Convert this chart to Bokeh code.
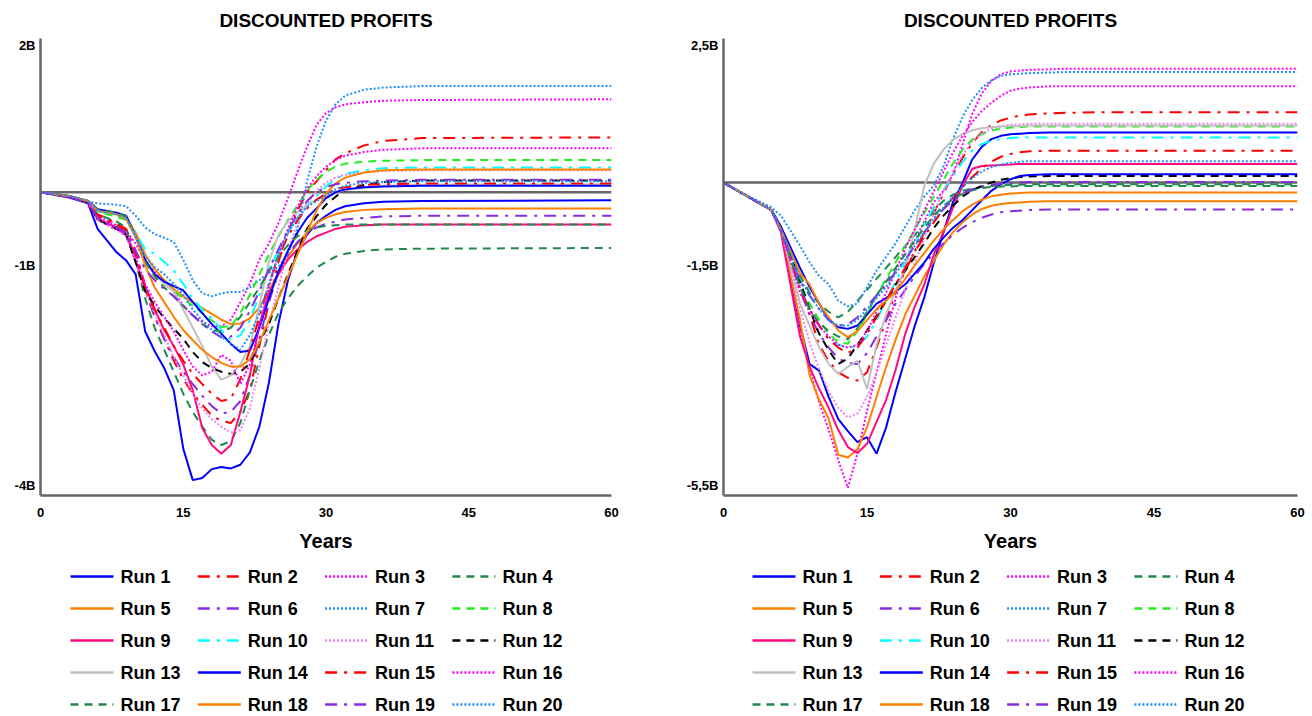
from bokeh.plotting import figure
from bokeh.models import Range1d, FixedTicker, Span
from bokeh.layouts import row, column
from bokeh.core.properties import value
from bokeh.embed import file_html
from bokeh.resources import INLINE

YEARS = [0, 3, 5, 6, 8, 9, 10, 11, 12, 13, 14, 15, 16, 17, 18, 19, 20, 21, 22, 23, 24, 25,
         26, 27, 28, 29, 30, 31, 32, 34, 36, 40, 60]

RUN_NAMES = ["Run %d" % i for i in range(1, 21)]
RUN_COLORS = ["#0000FF", "#FF0000", "#FF00FF", "#1E8B4C", "#FF8000", "#8A2BE2", "#1E90FF",
              "#22EE22", "#FF0A7F", "#00FFFF", "#EE82EE", "#000000", "#C0C0C0", "#0000FF",
              "#FF0000", "#FF00FF", "#1E8B4C", "#FF8000", "#8A2BE2", "#1E90FF"]
RUN_STYLES = ["solid", "dashdot", "dotted", "dashed", "solid", "dashdot", "dotted", "dashed",
              "solid", "dashdot", "dotted", "dashed", "solid", "solid", "dashdot", "dotted",
              "dashed", "solid", "dashdot", "dotted"]

# Left chart (billions)
left_run_01 = [0, -0.07, -0.15, -0.5, -0.82, -0.93, -1.12, -1.9, -2.17, -2.4, -2.7, -3.5, -3.93, -3.9, -3.78, -3.75, -3.77, -3.72, -3.55, -3.2, -2.6, -1.8, -1.2, -0.8, -0.58, -0.42, -0.32, -0.24, -0.19, -0.15, -0.13, -0.12, -0.11]
left_run_02 = [0, -0.06, -0.13, -0.3, -0.42, -0.5, -0.8, -1.3, -1.7, -2.0, -2.3, -2.55, -2.75, -2.9, -3.05, -3.12, -3.15, -3.0, -2.7, -2.1, -1.5, -0.95, -0.55, -0.25, 0.0, 0.15, 0.3, 0.45, 0.53, 0.64, 0.7, 0.74, 0.75]
left_run_03 = [0, -0.06, -0.13, -0.32, -0.45, -0.52, -0.7, -0.95, -1.08, -1.2, -1.35, -1.55, -1.68, -1.77, -1.83, -1.83, -1.74, -1.5, -1.25, -0.92, -0.7, -0.42, -0.08, 0.28, 0.62, 0.92, 1.08, 1.16, 1.2, 1.23, 1.25, 1.26, 1.27]
left_run_04 = [0, -0.06, -0.13, -0.3, -0.4, -0.48, -0.95, -1.45, -1.85, -2.15, -2.45, -2.75, -3.0, -3.2, -3.38, -3.45, -3.4, -3.15, -2.7, -2.3, -1.95, -1.65, -1.45, -1.28, -1.15, -1.03, -0.95, -0.88, -0.84, -0.8, -0.78, -0.77, -0.76]
left_run_05 = [0, -0.05, -0.12, -0.24, -0.3, -0.35, -0.55, -0.85, -1.05, -1.2, -1.32, -1.42, -1.5, -1.58, -1.66, -1.74, -1.8, -1.79, -1.72, -1.57, -1.35, -1.1, -0.88, -0.7, -0.55, -0.42, -0.35, -0.3, -0.27, -0.24, -0.23, -0.22, -0.22]
left_run_06 = [0, -0.06, -0.14, -0.38, -0.5, -0.58, -0.95, -1.35, -1.7, -2.0, -2.25, -2.45, -2.62, -2.78, -2.92, -3.02, -3.0, -2.85, -2.5, -2.0, -1.5, -1.1, -0.85, -0.68, -0.56, -0.48, -0.43, -0.4, -0.37, -0.35, -0.33, -0.32, -0.32]
left_run_07 = [0, -0.05, -0.13, -0.15, -0.17, -0.19, -0.32, -0.48, -0.57, -0.62, -0.68, -0.92, -1.2, -1.38, -1.42, -1.38, -1.36, -1.36, -1.3, -1.2, -1.1, -1.02, -0.85, -0.5, 0.15, 0.62, 0.98, 1.2, 1.32, 1.4, 1.43, 1.45, 1.45]
left_run_08 = [0, -0.05, -0.12, -0.27, -0.33, -0.38, -0.6, -0.95, -1.12, -1.25, -1.35, -1.45, -1.55, -1.65, -1.75, -1.84, -1.83, -1.65, -1.4, -1.12, -0.85, -0.6, -0.38, -0.18, 0.02, 0.17, 0.28, 0.35, 0.39, 0.42, 0.43, 0.44, 0.44]
left_run_09 = [0, -0.06, -0.14, -0.36, -0.48, -0.56, -0.95, -1.28, -1.6, -1.88, -2.1, -2.35, -2.7, -3.22, -3.45, -3.57, -3.45, -3.0, -2.5, -1.8, -1.38, -1.12, -0.92, -0.78, -0.68, -0.6, -0.55, -0.5, -0.47, -0.45, -0.44, -0.44, -0.44]
left_run_10 = [0, -0.05, -0.12, -0.26, -0.31, -0.36, -0.55, -0.78, -0.84, -0.95, -1.07, -1.25, -1.45, -1.6, -1.72, -1.88, -2.02, -1.95, -1.75, -1.4, -1.05, -0.8, -0.55, -0.35, -0.18, -0.05, 0.08, 0.18, 0.25, 0.3, 0.33, 0.34, 0.34]
left_run_11 = [0, -0.06, -0.14, -0.38, -0.52, -0.6, -0.95, -1.35, -1.65, -1.95, -2.25, -2.5, -2.75, -2.95, -3.1, -3.2, -3.28, -3.25, -2.95, -2.4, -1.8, -1.3, -0.8, -0.42, -0.15, 0.02, 0.13, 0.2, 0.24, 0.27, 0.29, 0.3, 0.3]
left_run_12 = [0, -0.06, -0.14, -0.37, -0.5, -0.58, -0.95, -1.35, -1.55, -1.72, -1.86, -2.0, -2.18, -2.32, -2.4, -2.45, -2.48, -2.45, -2.34, -2.05, -1.8, -1.45, -1.12, -0.8, -0.5, -0.33, -0.17, -0.06, 0.03, 0.1, 0.14, 0.16, 0.16]
left_run_13 = [0, -0.05, -0.12, -0.25, -0.3, -0.36, -0.58, -0.95, -1.12, -1.25, -1.35, -1.6, -1.85, -2.1, -2.38, -2.56, -2.5, -2.35, -2.1, -1.55, -0.95, -0.58, -0.4, -0.27, -0.18, -0.1, -0.05, 0.0, 0.03, 0.06, 0.09, 0.1, 0.11]
left_run_14 = [0, -0.05, -0.12, -0.23, -0.28, -0.32, -0.6, -0.92, -1.12, -1.22, -1.28, -1.34, -1.5, -1.65, -1.8, -1.93, -2.07, -2.18, -2.16, -1.85, -1.45, -1.08, -0.8, -0.55, -0.35, -0.22, -0.08, 0.0, 0.04, 0.07, 0.08, 0.09, 0.09]
left_run_15 = [0, -0.06, -0.13, -0.32, -0.45, -0.52, -0.85, -1.3, -1.6, -1.85, -2.1, -2.3, -2.48, -2.62, -2.75, -2.85, -2.82, -2.55, -2.15, -1.7, -1.25, -0.88, -0.6, -0.38, -0.22, -0.1, -0.02, 0.04, 0.07, 0.1, 0.11, 0.12, 0.12]
left_run_16 = [0, -0.06, -0.14, -0.35, -0.5, -0.57, -0.88, -1.25, -1.5, -1.7, -1.9, -2.15, -2.38, -2.5, -2.45, -2.22, -2.3, -2.62, -2.35, -1.85, -1.3, -0.85, -0.5, -0.2, 0.05, 0.22, 0.35, 0.44, 0.5, 0.55, 0.58, 0.6, 0.6]
left_run_17 = [0, -0.05, -0.12, -0.24, -0.28, -0.33, -0.6, -0.95, -1.15, -1.3, -1.42, -1.55, -1.68, -1.8, -1.88, -1.9, -1.85, -1.7, -1.5, -1.3, -1.08, -0.88, -0.72, -0.6, -0.52, -0.48, -0.46, -0.45, -0.44, -0.44, -0.44, -0.44, -0.44]
left_run_18 = [0, -0.05, -0.12, -0.25, -0.3, -0.36, -0.6, -1.0, -1.3, -1.5, -1.7, -1.88, -2.02, -2.15, -2.25, -2.33, -2.38, -2.38, -2.28, -2.05, -1.75, -1.45, -1.15, -0.85, -0.55, -0.25, -0.02, 0.12, 0.2, 0.27, 0.3, 0.31, 0.31]
left_run_19 = [0, -0.06, -0.14, -0.35, -0.48, -0.55, -0.8, -1.05, -1.2, -1.32, -1.42, -1.55, -1.68, -1.8, -1.9, -1.98, -1.97, -1.85, -1.62, -1.35, -1.05, -0.78, -0.52, -0.3, -0.12, 0.0, 0.07, 0.11, 0.13, 0.15, 0.16, 0.17, 0.17]
left_run_20 = [0, -0.05, -0.12, -0.25, -0.3, -0.35, -0.62, -0.88, -1.02, -1.12, -1.25, -1.4, -1.6, -1.75, -1.88, -1.97, -2.07, -2.15, -1.95, -1.65, -1.25, -0.85, -0.55, -0.35, -0.2, -0.12, -0.04, 0.04, 0.09, 0.13, 0.14, 0.15, 0.15]

# Right chart (billions)
right_run_01 = [0, -0.3, -0.5, -0.85, -2.6, -3.3, -3.42, -3.9, -4.3, -4.52, -4.72, -4.63, -4.93, -4.45, -3.8, -3.2, -2.6, -2.08, -1.45, -0.9, -0.35, 0.0, 0.42, 0.65, 0.79, 0.85, 0.88, 0.89, 0.9, 0.91, 0.91, 0.91, 0.91]
right_run_02 = [0, -0.3, -0.5, -0.85, -1.9, -2.4, -2.95, -3.25, -3.45, -3.55, -3.6, -3.45, -3.0, -2.5, -2.0, -1.6, -1.25, -0.9, -0.55, -0.2, 0.15, 0.45, 0.72, 0.92, 1.05, 1.13, 1.18, 1.22, 1.24, 1.26, 1.27, 1.28, 1.28]
right_run_03 = [0, -0.3, -0.5, -0.85, -2.65, -3.4, -4.0, -4.5, -5.05, -5.55, -4.93, -4.15, -3.45, -2.75, -2.1, -1.5, -1.05, -0.7, -0.35, -0.15, 0.15, 0.7, 1.25, 1.62, 1.85, 1.97, 2.02, 2.04, 2.05, 2.06, 2.07, 2.07, 2.07]
right_run_04 = [0, -0.3, -0.5, -0.8, -1.7, -2.0, -2.2, -2.35, -2.45, -2.35, -2.15, -1.95, -1.75, -1.55, -1.35, -1.15, -0.95, -0.75, -0.5, -0.33, -0.22, -0.15, -0.11, -0.08, -0.06, -0.05, -0.04, -0.04, -0.03, -0.03, -0.03, -0.03, -0.03]
right_run_05 = [0, -0.3, -0.5, -0.85, -2.5, -3.5, -3.95, -4.3, -4.95, -5.0, -4.85, -4.45, -3.9, -3.35, -2.85, -2.4, -2.05, -1.7, -1.42, -1.13, -0.9, -0.72, -0.58, -0.48, -0.42, -0.39, -0.37, -0.36, -0.35, -0.34, -0.34, -0.34, -0.34]
right_run_06 = [0, -0.3, -0.5, -0.85, -1.95, -2.4, -2.75, -3.0, -3.2, -3.28, -3.3, -3.1, -2.8, -2.5, -2.2, -1.95, -1.7, -1.48, -1.28, -1.1, -0.95, -0.82, -0.72, -0.64, -0.58, -0.54, -0.52, -0.51, -0.5, -0.49, -0.49, -0.49, -0.49]
right_run_07 = [0, -0.28, -0.45, -0.6, -1.15, -1.45, -1.7, -1.85, -2.15, -2.25, -2.2, -1.9, -1.6, -1.35, -1.1, -0.8, -0.5, -0.25, -0.05, 0.3, 0.8, 1.2, 1.5, 1.72, 1.86, 1.94, 1.97, 1.98, 1.99, 2.0, 2.01, 2.01, 2.01]
right_run_08 = [0, -0.3, -0.5, -0.85, -1.85, -2.2, -2.5, -2.75, -2.9, -2.93, -2.7, -2.4, -2.05, -1.75, -1.45, -1.15, -0.85, -0.55, -0.25, 0.05, 0.35, 0.6, 0.78, 0.88, 0.95, 0.98, 1.0, 1.01, 1.02, 1.02, 1.02, 1.02, 1.02]
right_run_09 = [0, -0.3, -0.5, -0.9, -2.8, -3.35, -3.75, -4.1, -4.5, -4.81, -4.92, -4.75, -4.35, -3.95, -3.4, -2.75, -2.25, -1.85, -1.3, -0.9, -0.45, -0.05, 0.25, 0.3, 0.31, 0.32, 0.33, 0.34, 0.34, 0.34, 0.34, 0.34, 0.34]
right_run_10 = [0, -0.3, -0.5, -0.85, -1.9, -2.3, -2.6, -2.85, -2.95, -3.0, -2.98, -2.8, -2.5, -2.15, -1.8, -1.45, -1.1, -0.75, -0.45, -0.15, 0.12, 0.38, 0.58, 0.7, 0.76, 0.79, 0.81, 0.82, 0.82, 0.82, 0.82, 0.82, 0.82]
right_run_11 = [0, -0.3, -0.5, -0.85, -2.3, -2.9, -3.4, -3.8, -4.1, -4.27, -4.2, -3.9, -3.45, -2.95, -2.45, -1.95, -1.45, -1.0, -0.55, -0.15, 0.2, 0.5, 0.75, 0.9, 0.98, 1.02, 1.05, 1.06, 1.07, 1.07, 1.07, 1.07, 1.07]
right_run_12 = [0, -0.3, -0.5, -0.85, -1.8, -2.3, -2.75, -3.05, -3.3, -3.2, -2.95, -2.69, -2.42, -2.15, -1.85, -1.6, -1.35, -1.1, -0.82, -0.6, -0.42, -0.25, -0.14, -0.06, 0.0, 0.05, 0.08, 0.1, 0.11, 0.12, 0.12, 0.12, 0.12]
right_run_13 = [0, -0.3, -0.5, -0.8, -2.2, -2.6, -3.0, -3.3, -3.48, -3.35, -3.24, -3.75, -2.95, -2.4, -1.95, -1.55, -0.85, -0.05, 0.35, 0.6, 0.78, 0.88, 0.95, 0.99, 1.01, 1.02, 1.03, 1.03, 1.04, 1.04, 1.04, 1.04, 1.04]
right_run_14 = [0, -0.3, -0.5, -0.8, -1.55, -1.9, -2.2, -2.5, -2.63, -2.66, -2.6, -2.4, -2.2, -2.1, -1.98, -1.85, -1.65, -1.45, -1.2, -1.0, -0.82, -0.68, -0.5, -0.32, -0.15, -0.03, 0.06, 0.12, 0.14, 0.15, 0.15, 0.15, 0.15]
right_run_15 = [0, -0.3, -0.5, -0.85, -1.95, -2.3, -2.6, -2.85, -3.0, -3.1, -3.0, -2.75, -2.45, -2.15, -1.85, -1.55, -1.25, -0.98, -0.72, -0.48, -0.27, -0.08, 0.1, 0.26, 0.38, 0.47, 0.52, 0.55, 0.57, 0.58, 0.58, 0.58, 0.58]
right_run_16 = [0, -0.3, -0.5, -0.85, -2.0, -2.35, -2.6, -2.8, -2.95, -3.0, -2.95, -2.7, -2.35, -2.0, -1.6, -1.2, -0.85, -0.5, -0.15, 0.2, 0.55, 0.85, 1.1, 1.3, 1.45, 1.58, 1.67, 1.71, 1.73, 1.75, 1.75, 1.75, 1.75]
right_run_17 = [0, -0.3, -0.5, -0.85, -1.9, -2.3, -2.55, -2.7, -2.8, -2.85, -2.65, -2.35, -2.05, -1.8, -1.55, -1.3, -1.05, -0.82, -0.6, -0.42, -0.3, -0.2, -0.14, -0.1, -0.08, -0.07, -0.07, -0.06, -0.06, -0.06, -0.06, -0.06, -0.06]
right_run_18 = [0, -0.3, -0.5, -0.85, -1.65, -1.85, -2.2, -2.45, -2.69, -2.81, -2.7, -2.5, -2.3, -2.15, -1.98, -1.75, -1.5, -1.28, -1.05, -0.85, -0.68, -0.52, -0.4, -0.31, -0.25, -0.22, -0.2, -0.19, -0.18, -0.18, -0.18, -0.18, -0.18]
right_run_19 = [0, -0.3, -0.5, -0.85, -1.8, -2.05, -2.3, -2.5, -2.6, -2.58, -2.45, -2.25, -2.05, -1.85, -1.62, -1.4, -1.15, -0.9, -0.68, -0.48, -0.32, -0.2, -0.12, -0.07, -0.04, -0.02, -0.01, 0.0, 0.01, 0.01, 0.01, 0.01, 0.01]
right_run_20 = [0, -0.3, -0.5, -0.85, -1.75, -2.05, -2.3, -2.5, -2.6, -2.6, -2.5, -2.3, -2.1, -1.9, -1.65, -1.4, -1.15, -0.9, -0.65, -0.45, -0.25, -0.08, 0.08, 0.2, 0.28, 0.33, 0.36, 0.38, 0.39, 0.39, 0.39, 0.39, 0.39]

LEFT_RUNS = [left_run_01, left_run_02, left_run_03, left_run_04, left_run_05, left_run_06,
             left_run_07, left_run_08, left_run_09, left_run_10, left_run_11, left_run_12,
             left_run_13, left_run_14, left_run_15, left_run_16, left_run_17, left_run_18,
             left_run_19, left_run_20]
RIGHT_RUNS = [right_run_01, right_run_02, right_run_03, right_run_04, right_run_05, right_run_06,
              right_run_07, right_run_08, right_run_09, right_run_10, right_run_11, right_run_12,
              right_run_13, right_run_14, right_run_15, right_run_16, right_run_17, right_run_18,
              right_run_19, right_run_20]

X_TICKS = [0, 15, 30, 45, 60]
LEFT_Y_TICKS = [-4, -1, 2]
LEFT_Y_LABELS = ["-4B", "-1B", "2B"]
RIGHT_Y_TICKS = [-5.5, -1.5, 2.5]
RIGHT_Y_LABELS = ["-5,5B", "-1,5B", "2,5B"]

DASHES = {"solid": "solid", "dashed": "8 6", "dashdot": "12 7 3 7", "dotted": "2 2"}
FONT = "Liberation Sans"
AXIS_COLOR = "#666666"
PANEL_W = 656
MAIN_H = 560
LEG_H = 156


def make_panel(runs, y_lo, y_hi, y_ticks, y_labels, b_left, b_right):
    p = figure(width=PANEL_W, height=MAIN_H, x_range=Range1d(0, 60),
               y_range=Range1d(y_lo, y_hi), output_backend="svg", toolbar_location=None,
               title="DISCOUNTED PROFITS", min_border_left=b_left, min_border_right=b_right,
               min_border_top=38, min_border_bottom=65)
    p.title.align = "center"
    p.title.text_font = FONT
    p.title.text_font_size = "19px"
    p.title.text_font_style = "bold"
    p.title.text_color = "black"
    p.title.standoff = 15
    p.outline_line_color = None
    p.xgrid.visible = False
    p.ygrid.visible = False

    p.add_layout(Span(location=0, dimension="width", line_color=AXIS_COLOR, line_width=2.5,
                      level="underlay"))

    for ax in (p.xaxis[0], p.yaxis[0]):
        ax.axis_line_color = AXIS_COLOR
        ax.axis_line_width = 2.5
        ax.major_tick_line_color = None
        ax.minor_tick_line_color = None
        ax.major_tick_out = 0
        ax.major_tick_in = 0
        ax.major_label_text_font = FONT
        ax.major_label_text_font_size = "13px"
        ax.major_label_text_font_style = "bold"
        ax.major_label_text_color = "black"

    p.xaxis.ticker = FixedTicker(ticks=X_TICKS)
    p.xaxis.major_label_standoff = 12
    p.xaxis.axis_label = "Years"
    p.xaxis.axis_label_text_font = FONT
    p.xaxis.axis_label_text_font_size = "20px"
    p.xaxis.axis_label_text_font_style = "bold"
    p.xaxis.axis_label_text_color = "black"
    p.xaxis.axis_label_standoff = 10

    p.yaxis.ticker = FixedTicker(ticks=y_ticks)
    p.yaxis.major_label_overrides = {t: s for t, s in zip(y_ticks, y_labels)}
    p.yaxis.major_label_standoff = 5

    for ys, color, style in zip(runs, RUN_COLORS, RUN_STYLES):
        p.line(YEARS, ys, line_color=color, line_width=2, line_dash=DASHES[style])
    return p


def make_legend(x_start, b_left, b_right):
    # The legend figure's frame is aligned with the chart's frame (column layout),
    # so map its x range to the figure's own pixel positions.
    lg = figure(width=PANEL_W, height=LEG_H, x_range=Range1d(b_left, PANEL_W - b_right),
                y_range=Range1d(LEG_H, 0), output_backend="svg", toolbar_location=None,
                min_border_left=b_left, min_border_right=b_right, min_border_top=0,
                min_border_bottom=0, x_axis_location=None, y_axis_location=None)
    lg.outline_line_color = None
    lg.xgrid.visible = False
    lg.ygrid.visible = False
    col_pitch = 127.3
    row_pitch = 32
    for i, (name, color, style) in enumerate(zip(RUN_NAMES, RUN_COLORS, RUN_STYLES)):
        c, r = i % 4, i // 4
        gx = x_start + c * col_pitch
        gy = 16 + r * row_pitch
        lg.segment(x0=[gx], y0=[gy], x1=[gx + 43], y1=[gy], line_color=color,
                   line_width=2.5, line_dash=DASHES[style])
        lg.text(x=[gx + 50], y=[gy], text=[name], text_font=value(FONT),
                text_font_size="18px", text_font_style="bold", text_color="black",
                text_baseline="middle", text_align="left")
    return lg


p_left = make_panel(LEFT_RUNS, -4.14, 2.10, LEFT_Y_TICKS, LEFT_Y_LABELS, 40, 45)
p_right = make_panel(RIGHT_RUNS, -5.69, 2.62, RIGHT_Y_TICKS, RIGHT_Y_LABELS, 67, 15)
leg_left = make_legend(70, 40, 45)
leg_right = make_legend(752 - PANEL_W, 67, 15)

layout = row(column(p_left, leg_left), column(p_right, leg_right))
open("out.html", "w").write(file_html(layout, INLINE))
